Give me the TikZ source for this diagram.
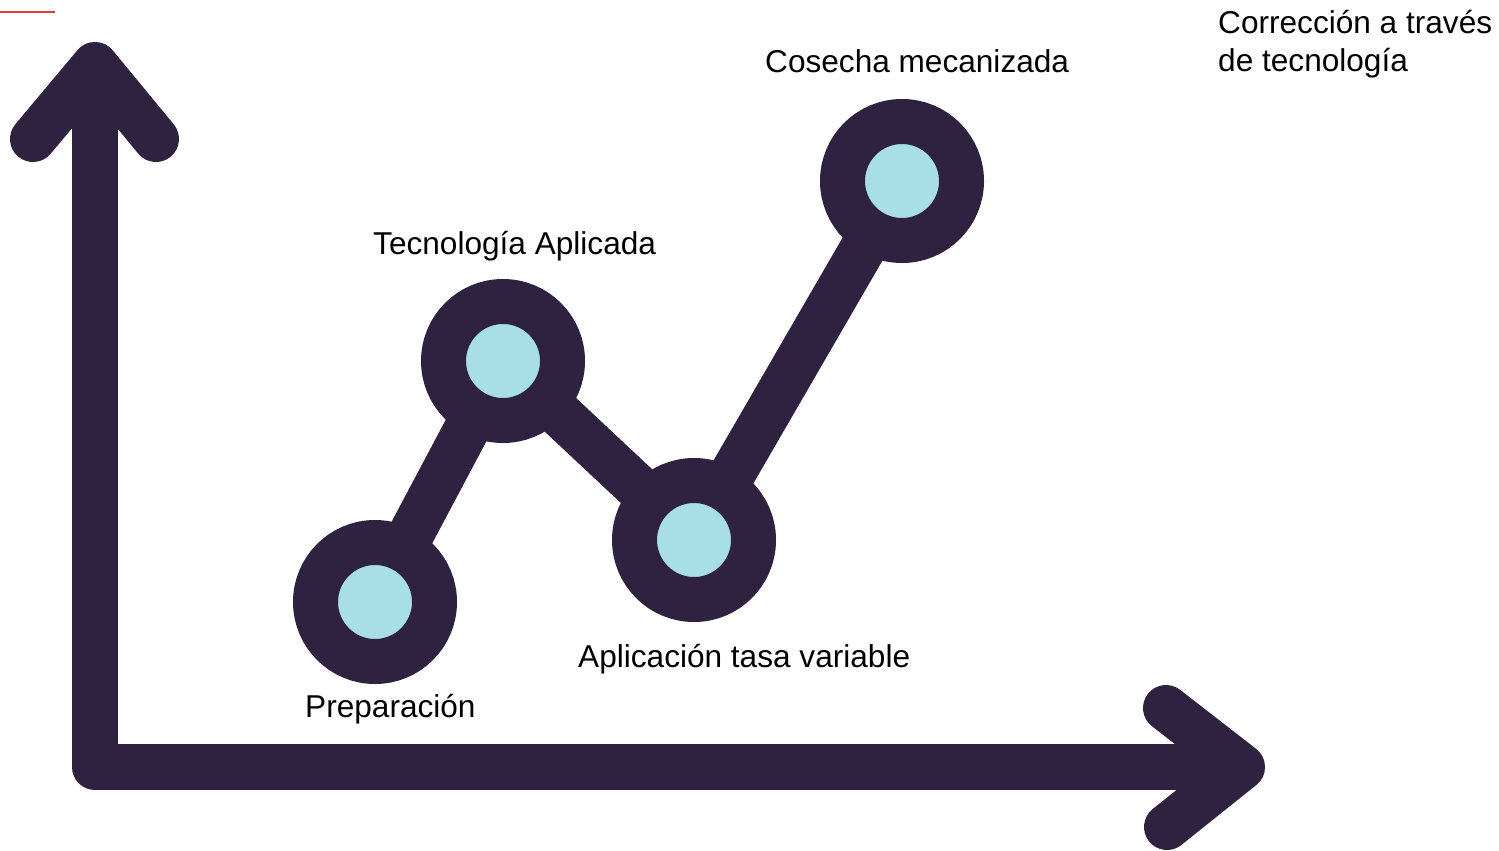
\documentclass[tikz,border=0pt]{standalone}
\usepackage{fontspec}
\setmainfont{Liberation Sans}
\usetikzlibrary{backgrounds}
\definecolor{ink}{HTML}{2E2240}
\definecolor{dot}{HTML}{A8DFE6}
\definecolor{redline}{HTML}{E53935}
\tikzset{
  axisline/.style={draw=ink, line width=46pt, line cap=round, line join=round},
  link/.style={draw=ink, line width=46pt},
  stage/.style={circle, draw=ink, line width=45pt, fill=dot, minimum size=119pt, inner sep=0pt},
  lbl/.style={anchor=base west, inner sep=0pt, font=\fontsize{31.6}{38}\selectfont, text=black},
}
\begin{document}
\begin{tikzpicture}[x=1pt,y=-1pt]
\useasboundingbox (0,0) rectangle (1499,851);
% red mark
\coordinate (r1) at (0,12);
\coordinate (r2) at (55,12);
\draw[redline, line width=1.5pt] (r1) -- (r2);
% axes
\coordinate (ytip) at (95,65);
\coordinate (yl) at (33,139);
\coordinate (yr) at (156,139);
\coordinate (org) at (95,767);
\coordinate (xtip) at (1242,767);
\coordinate (xu) at (1166,708);
\coordinate (xd) at (1167,827);
\draw[axisline] (yl) -- (ytip) -- (yr);
\draw[axisline, line cap=butt] (ytip) -- (org) -- (xtip);
\draw[axisline] (xu) -- (xtip) -- (xd);
% stages
\node[stage] (p) at (375,602) {};
\node[stage] (t) at (503,361) {};
\node[stage] (a) at (694,540) {};
\node[stage] (c) at (902,181) {};
\begin{scope}[on background layer]
\draw[link] (p.center) -- (t.center) -- (a.center) -- (c.center);
\end{scope}
% labels
\node[lbl] (lp) at (305,717) {Preparación};
\node[lbl] (lt) at (373,254) {Tecnología Aplicada};
\node[lbl] (la) at (578,667) {Aplicación tasa variable};
\node[lbl] (lc) at (765,73) {Cosecha mecanizada};
\node[lbl] (lr) at (1218,34) {Corrección a través};
\node[lbl] (lr2) at (1218,72) {de tecnología};
\end{tikzpicture}
\end{document}
